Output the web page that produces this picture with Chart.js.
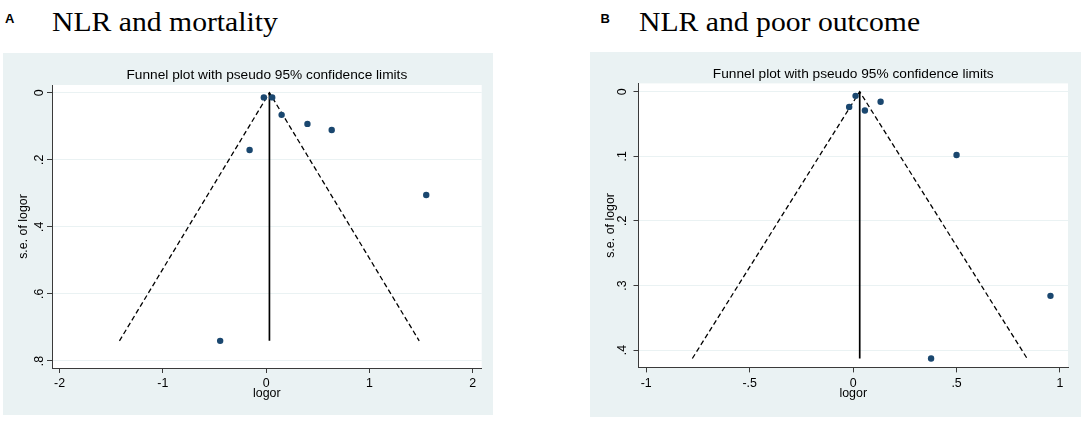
<!DOCTYPE html>
<html>
<head>
<meta charset="utf-8">
<script src="https://cdn.jsdelivr.net/npm/chart.js@4.4.1/dist/chart.umd.min.js"></script>
<style>
  html, body { margin: 0; padding: 0; background: #ffffff; }
  body { width: 1084px; height: 421px; position: relative; overflow: hidden; }
  .panel { position: absolute; background: #eaf2f3; }
  .panel canvas { display: block; }
  .letter { position: absolute; font-family: "Liberation Sans", Arial, sans-serif; font-weight: bold; font-size: 13px; line-height: 13px; color: #000; }
  .head { position: absolute; font-family: "Liberation Serif", "Times New Roman", serif; font-size: 28px; line-height: 28px; color: #000; white-space: nowrap; transform: scaleX(1.06); transform-origin: left top; }
</style>
</head>
<body>
<div class="letter" style="left:5px; top:12.3px;">A</div>
<div class="head" style="left:51.7px; top:8.2px;">NLR and mortality</div>
<div class="letter" style="left:600.5px; top:12.3px;">B</div>
<div class="head" style="left:639.3px; top:8.2px;">NLR and poor outcome</div>

<div class="panel" id="panelA" style="left:3px; top:53px; width:490px; height:362px;"><canvas id="chartA" width="490" height="362"></canvas></div>
<div class="panel" id="panelB" style="left:590px; top:52px; width:491px; height:365px;"><canvas id="chartB" width="491" height="365"></canvas></div>

<script>
// ---------- Panel A: NLR and mortality ----------
const xTicksA = [-2, -1, 0, 1, 2];
const xTickLabelsA = ['-2', '-1', '0', '1', '2'];
const yTicksA = [0, 0.2, 0.4, 0.6, 0.8];
const yTickLabelsA = ['0', '.2', '.4', '.6', '.8'];
const logorA = [-0.022, 0.059, 0.150, 0.400, 0.635, -0.160, 1.550, -0.445];
const seA    = [0.014, 0.014, 0.066, 0.093, 0.111, 0.171, 0.305, 0.740];
const funnelXA = [-1.420, 0.032, 1.482];
const funnelYA = [0.740, 0.000, 0.740];
const pooledXA = [0.032, 0.032];
const pooledYA = [0.000, 0.740];

// ---------- Panel B: NLR and poor outcome ----------
const xTicksB = [-1, -0.5, 0, 0.5, 1];
const xTickLabelsB = ['-1', '-.5', '0', '.5', '1'];
const yTicksB = [0, 0.1, 0.2, 0.3, 0.4];
const yTickLabelsB = ['0', '.1', '.2', '.3', '.4'];
const logorB = [0.012, -0.019, 0.057, 0.133, 0.500, 0.954, 0.377];
const seB    = [0.0064, 0.0235, 0.0290, 0.0155, 0.098, 0.316, 0.413];
const funnelXB = [-0.777, 0.032, 0.841];
const funnelYB = [0.413, 0.000, 0.413];
const pooledXB = [0.032, 0.032];
const pooledYB = [0.000, 0.413];

const titleText = 'Funnel plot with pseudo 95% confidence limits';
const xTitleText = 'logor';
const yTitleText = 's.e. of logor';

Chart.defaults.font.family = '"Liberation Sans", Arial, sans-serif';
Chart.defaults.color = '#000000';

const toPts = (xs, ys) => xs.map((x, i) => ({ x: x, y: ys[i] }));

const whiteArea = {
  id: 'whiteArea',
  beforeDraw(chart) {
    const { ctx, chartArea: a } = chart;
    ctx.save();
    ctx.fillStyle = '#ffffff';
    ctx.fillRect(a.left, a.top, a.right - a.left, a.bottom - a.top);
    ctx.restore();
  }
};

function makeChart(id, d, lay) {
  const axisColor = '#3a3a3a';
  return new Chart(document.getElementById(id), {
    type: 'scatter',
    data: {
      datasets: [
        {
          data: toPts(d.funnelX, d.funnelY),
          showLine: true,
          borderColor: '#000000',
          borderWidth: 1.3,
          borderDash: [5, 3],
          pointRadius: 0,
          order: 3
        },
        {
          data: toPts(d.pooledX, d.pooledY),
          showLine: true,
          borderColor: '#000000',
          borderWidth: 1.7,
          pointRadius: 0,
          order: 2
        },
        {
          data: toPts(d.logor, d.se),
          showLine: false,
          pointRadius: 3.2,
          pointBackgroundColor: '#1a476f',
          pointBorderColor: '#1a476f',
          pointBorderWidth: 0,
          order: 1
        }
      ]
    },
    options: {
      responsive: false,
      animation: false,
      events: [],
      layout: { padding: { left: 0, top: 0, right: lay.rightPad, bottom: 0 } },
      plugins: {
        legend: { display: false },
        tooltip: { enabled: false },
        title: {
          display: true,
          text: titleText,
          fullSize: false,
          color: '#000000',
          font: { size: 13.7, weight: 'normal' },
          padding: { top: 13.8, bottom: lay.titleBottom }
        }
      },
      scales: {
        x: {
          type: 'linear',
          position: 'bottom',
          min: d.xMin, max: d.xMax,
          afterBuildTicks: (s) => { s.ticks = d.xTicks.map(v => ({ value: v })); },
          afterFit: (s) => { s.height = lay.xHeight; },
          ticks: {
            autoSkip: false, maxRotation: 0, minRotation: 0,
            padding: 3.3,
            font: { size: 12.4 },
            color: '#000000',
            callback: (v, i) => d.xLabels[i]
          },
          grid: { display: true, drawOnChartArea: false, drawTicks: true, tickLength: 5, tickColor: axisColor, tickWidth: 1 },
          border: { display: true, color: axisColor, width: 1 },
          title: { display: true, text: xTitleText, color: '#000000', font: { size: 12.4 }, padding: { top: 0, bottom: lay.xTitleBottom } }
        },
        y: {
          type: 'linear',
          position: 'left',
          reverse: true,
          min: d.yMin, max: d.yMax,
          afterBuildTicks: (s) => { s.ticks = d.yTicks.map(v => ({ value: v })); },
          afterFit: (s) => { s.width = lay.yWidth; },
          ticks: {
            autoSkip: false, minRotation: 90, maxRotation: 90,
            crossAlign: 'center',
            padding: lay.yTickPad,
            font: { size: 12.4 },
            color: '#000000',
            callback: (v, i) => d.yLabels[i]
          },
          grid: { display: true, drawOnChartArea: true, color: '#eaf2f3', lineWidth: 1, drawTicks: true, tickLength: 5, tickColor: axisColor, tickWidth: 1 },
          border: { display: true, color: axisColor, width: 1 },
          title: { display: true, text: yTitleText, color: '#000000', font: { size: 12.4 }, padding: { top: 13.6, bottom: 0 } }
        }
      }
    },
    plugins: [whiteArea]
  });
}

makeChart('chartA', {
  logor: logorA, se: seA, funnelX: funnelXA, funnelY: funnelYA, pooledX: pooledXA, pooledY: pooledYA,
  xTicks: xTicksA, xLabels: xTickLabelsA, yTicks: yTicksA, yLabels: yTickLabelsA,
  xMin: -2.073, xMax: 2.087, yMin: -0.023, yMax: 0.821
}, { rightPad: 11.3, titleBottom: 1.76, xHeight: 47, xTitleBottom: 13.9, yWidth: 49, yTickPad: 2.3 });

makeChart('chartB', {
  logor: logorB, se: seB, funnelX: funnelXB, funnelY: funnelYB, pooledX: pooledXB, pooledY: pooledYB,
  xTicks: xTicksB, xLabels: xTickLabelsB, yTicks: yTicksB, yLabels: yTickLabelsB,
  xMin: -1.0372, xMax: 1.0387, yMin: -0.01285, yMax: 0.4268
}, { rightPad: 13, titleBottom: 1.16, xHeight: 49.6, xTitleBottom: 15.9, yWidth: 48.5, yTickPad: 5.5 });
</script>
</body>
</html>
